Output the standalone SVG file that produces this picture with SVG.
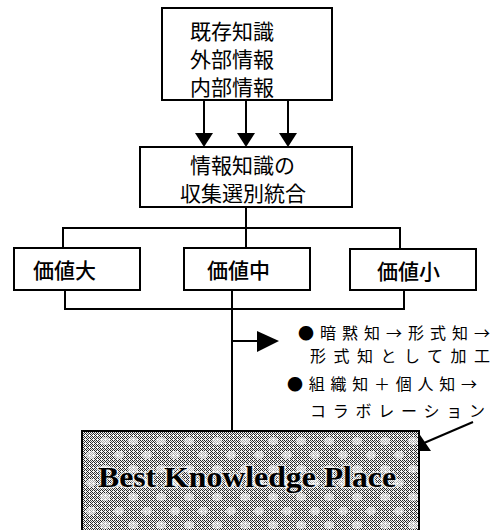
<svg xmlns="http://www.w3.org/2000/svg" width="494" height="530" viewBox="0 0 494 530">
<style>
.box{fill:#fff;stroke:#000;stroke-width:2}
.ln{fill:none;stroke:#000;stroke-width:2}
.jp{font-family:"Noto Sans CJK JP","Noto Sans CJK SC",sans-serif;font-size:21px;fill:#000}
.jb{font-weight:500}
.rt{font-family:"Noto Sans CJK JP","Noto Sans CJK SC",sans-serif;font-size:16px;fill:#000}
.bkp{font-family:"Liberation Serif","Times New Roman",serif;font-weight:700;font-size:29px;fill:#000;stroke:#fff;stroke-width:3;paint-order:stroke;stroke-opacity:0.6}
</style>
<defs>
<pattern id="hatch" width="4" height="4" patternUnits="userSpaceOnUse">
<rect width="4" height="4" fill="#f4f4f4"/>
<rect x="0" y="0" width="1" height="1" fill="#222"/>
<rect x="2" y="0" width="1" height="1" fill="#333"/>
<rect x="1" y="1" width="1" height="1" fill="#222"/>
<rect x="3" y="1" width="1" height="1" fill="#555"/>
<rect x="0" y="2" width="1" height="1" fill="#333"/>
<rect x="2" y="2" width="1" height="1" fill="#222"/>
<rect x="3" y="3" width="1" height="1" fill="#222"/>
</pattern>
<pattern id="spots" width="28" height="28" patternUnits="userSpaceOnUse">
<ellipse cx="7" cy="7" rx="5" ry="4" fill="#fff" opacity="0.6"/>
<ellipse cx="21" cy="21" rx="5" ry="4" fill="#fff" opacity="0.6"/>
</pattern>
</defs>

<g id="connectors">
<line class="ln" x1="204" y1="100" x2="204" y2="134"/>
<line class="ln" x1="246" y1="100" x2="246" y2="134"/>
<line class="ln" x1="288" y1="100" x2="288" y2="134"/>
<polygon points="195,133 213,133 204,147" fill="#000"/>
<polygon points="237,133 255,133 246,147" fill="#000"/>
<polygon points="279,133 297,133 288,147" fill="#000"/>
<polyline class="ln" points="63,248 63,228 400,228 400,249"/>
<line class="ln" x1="246" y1="207" x2="246" y2="248"/>
<polyline class="ln" points="65,290 65,309 404,309 404,290"/>
<line class="ln" x1="232" y1="290" x2="232" y2="431"/>
<line class="ln" x1="232" y1="341" x2="258" y2="341"/>
<polygon points="257,331 279,341 257,352" fill="#000"/>
<line class="ln" x1="473" y1="422" x2="424" y2="443"/>
<polygon points="408,451 431,451 418,432" fill="#000"/>
</g>

<g id="sources">
<rect class="box" x="162" y="8" width="170" height="92"/>
<text class="jp" x="190" y="39">既存知識</text>
<text class="jp" x="190" y="67">外部情報</text>
<text class="jp" x="190" y="95">内部情報</text>
</g>

<g id="integration">
<rect class="box" x="140" y="147" width="212" height="60"/>
<text class="jp" x="190" y="173">情報知識の</text>
<text class="jp" x="180" y="201">収集選別統合</text>
</g>

<g id="value-high">
<rect class="box" x="14" y="248" width="126" height="42"/>
<text class="jp jb" x="33" y="278">価値大</text>
</g>

<g id="value-mid">
<rect class="box" x="184" y="248" width="126" height="42"/>
<text class="jp jb" x="207" y="278">価値中</text>
</g>

<g id="value-low">
<rect class="box" x="350" y="249" width="126" height="41"/>
<text class="jp jb" x="377" y="279">価値小</text>
</g>

<g id="notes">
<text class="rt" x="298" y="339" textLength="192" lengthAdjust="spacing">●暗黙知→形式知→</text>
<text class="rt" x="310" y="362" textLength="180" lengthAdjust="spacing">形式知として加工</text>
<text class="rt" x="287" y="390" textLength="190" lengthAdjust="spacing">●組織知＋個人知→</text>
<text class="rt" x="310" y="417" textLength="175" lengthAdjust="spacing">コラボレーション</text>
</g>

<g id="best-knowledge-place">
<rect x="82" y="431" width="337" height="110" fill="url(#hatch)"/>
<rect x="82" y="431" width="337" height="110" fill="url(#spots)"/>
<rect x="82" y="431" width="337" height="110" fill="none" stroke="#000" stroke-width="2"/>
<text class="bkp" x="98" y="487" textLength="298" lengthAdjust="spacingAndGlyphs">Best Knowledge Place</text>
</g>
</svg>
